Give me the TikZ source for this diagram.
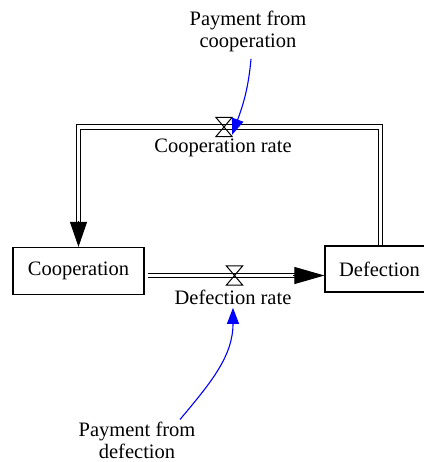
\documentclass[tikz,border=0pt]{standalone}
\usepackage{fontspec}
\setmainfont{Liberation Serif}
\usetikzlibrary{arrows.meta,calc}
\begin{document}
\begin{tikzpicture}[x=1pt,y=-1pt,
  every node/.style={font=\fontsize{20.5}{22}\selectfont},
  stock/.style={draw, line width=1.2pt, minimum height=47pt, inner sep=0pt},
  pipe/.style={draw=black, double=white, double distance=3.4pt, line width=1.2pt},
  valve/.style={minimum width=16pt, minimum height=19pt, inner sep=0pt},
  valveline/.style={line width=1pt, line join=miter},
  flowtip/.style={line width=1pt, -{Triangle[length=#1,width=17pt]}},
  info/.style={draw=blue, line width=1.1pt, -{Triangle[length=16pt,width=12pt]}}]
\useasboundingbox (0,0) rectangle (423,462);

% stocks
\node[stock, minimum width=131pt] (coop) at (78.5,271) {Cooperation};
\node[stock, minimum width=109pt, minimum height=46pt] (def) at (379.5,269) {Defection};

% valves on the two flows
\node[valve] (cv) at (224,127) {};
\node[valve] (dv) at (234.5,275.5) {};
\coordinate (rp) at (380.5,0);

% cooperation flow: from Defection back round the top into Cooperation
\draw[pipe, shorten >=24pt] (def.north -| rp) |- (cv.center) -| (coop.north);
\draw[flowtip=25pt] ($(coop.north)+(0,-26)$) -- (coop.north);

% defection flow: Cooperation into Defection
\draw[pipe, shorten <=3pt, shorten >=29pt] (coop.east |- dv) -- (def.west |- dv);
\draw[flowtip=30pt] ($(def.west |- dv)+(-31,0)$) -- (def.west |- dv);

\foreach \v in {cv,dv}
  \draw[valveline] (\v.north west) -- (\v.north east) -- (\v.south west)
    -- (\v.south east) -- cycle;

% rate labels
\node (cr) at (223,148) {Cooperation rate};
\node (dr) at (233,297) {Defection rate};

% payment variables
\node[align=center] (pc) at (248,31) {Payment from\\cooperation};
\node[align=center, inner sep=1pt] (pd) at (137,440) {Payment from\\defection};

% information links (angles are screen angles)
\draw[info] ($(pc.south)+(3,4)$) to[out=-95,in=70] ($(cv.south east)+(0,-2)$);
\draw[info] ($(pd.north)+(43,-1)$) to[out=50,in=-90] (dr.south);
\end{tikzpicture}
\end{document}
